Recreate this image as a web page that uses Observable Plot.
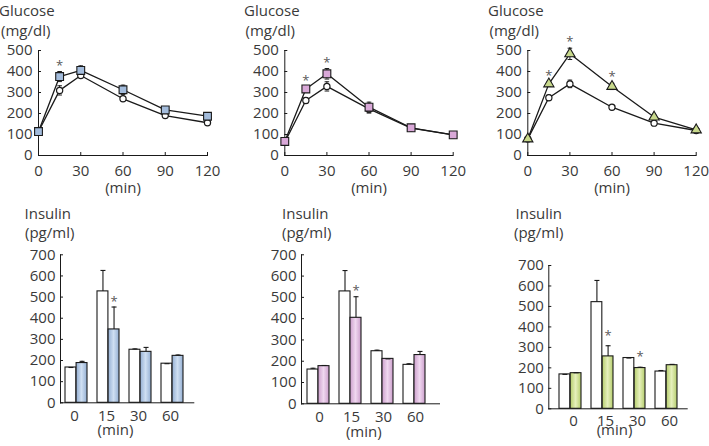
<!DOCTYPE html>
<html><head><meta charset="utf-8">
<script src="https://cdn.jsdelivr.net/npm/d3@7"></script>
<script src="https://cdn.jsdelivr.net/npm/@observablehq/plot@0.6"></script>
<style>
html,body{margin:0;padding:0;background:#fff;}
#wrap{position:relative;width:709px;height:446px;overflow:hidden;font-family:"Open Sans",sans-serif;color:#3a3a3a;}
.panel{position:absolute;}
.lbl{position:absolute;font-size:15px;line-height:15px;white-space:nowrap;color:#3a3a3a;font-family:"Open Sans",sans-serif;}
</style></head><body><div id="wrap"></div>
<script>
// ---------- data ----------
const minutes = [0, 15, 30, 60, 90, 120];
const minuteTicks = [0, 30, 60, 90, 120];
const glucoseTicks = [0, 100, 200, 300, 400, 500];
const insulinTicks = [0, 100, 200, 300, 400, 500, 600, 700];
const insulinMinutes = ["0", "15", "30", "60"];
const glucoseTitle = "Glucose", glucoseUnit = "(mg/dl)";
const insulinTitle = "Insulin", insulinUnit = "(pg/ml)";
const timeUnit = "(min)";

const glucoseControlA = [114, 310, 381, 270, 190, 156];
const glucoseControlAErr = [5, 22, 10, 8, 6, 6];
const glucoseBlue = [114, 376, 405, 313, 217, 187];
const glucoseBlueErr = [8, 24, 22, 22, 8, 16];
const glucoseBlueSig = [15];

const glucoseControlB = [63, 262, 329, 222, 130, 98];
const glucoseControlBErr = [6, 14, 22, 20, 8, 6];
const glucosePurple = [67, 317, 389, 230, 132, 98];
const glucosePurpleErr = [8, 10, 25, 24, 8, 6];
const glucosePurpleSig = [15, 30];

const glucoseControlC = [79, 275, 341, 230, 154, 119];
const glucoseControlCErr = [5, 12, 18, 8, 6, 5];
const glucoseGreen = [79, 341, 484, 329, 183, 122];
const glucoseGreenErr = [6, 12, 27, 15, 10, 6];
const glucoseGreenSig = [15, 30, 60];

const insulinControlA = [167, 527, 251, 185];
const insulinControlAErr = [0, 99, 4, 0];
const insulinBlue = [188, 347, 241, 222];
const insulinBlueErr = [8, 106, 21, 4];
const insulinBlueSig = ["15"];

const insulinControlB = [161, 528, 247, 183];
const insulinControlBErr = [6, 98, 5, 5];
const insulinPurple = [177, 404, 211, 229];
const insulinPurpleErr = [3, 99, 0, 17];
const insulinPurpleSig = ["15"];

const insulinControlC = [168, 521, 248, 182];
const insulinControlCErr = [0, 106, 0, 5];
const insulinGreen = [174, 256, 199, 213];
const insulinGreenErr = [2, 52, 4, 4];
const insulinGreenSig = ["15", "30"];

// ---------- helpers ----------
const INK = "#1a1a1a";
const capSymbol = {draw(ctx, size) { const w = Math.sqrt(size / Math.PI); ctx.moveTo(-w, 0); ctx.lineTo(w, 0); }};
const wrap = document.getElementById("wrap");

function gradDef(id, edge, mid) {
  return () => {
    const defs = d3.create("svg:defs");
    const g = defs.append("linearGradient").attr("id", id)
      .attr("x1", "0").attr("x2", "1").attr("y1", "0").attr("y2", "0");
    g.append("stop").attr("offset", "0").attr("stop-color", edge);
    g.append("stop").attr("offset", "0.5").attr("stop-color", mid);
    g.append("stop").attr("offset", "1").attr("stop-color", edge);
    return defs.node();
  };
}

function place(node, left, top) {
  const d = document.createElement("div");
  d.className = "panel"; d.style.left = left + "px"; d.style.top = top + "px";
  d.appendChild(node); wrap.appendChild(d);
}
function label(text, left, top) {
  const d = document.createElement("div");
  d.className = "lbl"; d.textContent = text;
  d.style.left = left + "px"; d.style.top = top + "px";
  wrap.appendChild(d);
}

const baseStyle = {background: "transparent", fontFamily: "'Open Sans', sans-serif", fontSize: "15px", color: "#3a3a3a", overflow: "visible"};

function glucosePanel(o) {
  const rows = (vals, errs) => minutes.map((t, i) => ({t, v: vals[i], lo: vals[i] - errs[i], hi: vals[i] + errs[i]}));
  const c = rows(o.ctrl, o.ctrlErr), s = rows(o.treat, o.treatErr);
  const stars = s.filter(d => o.sig.includes(d.t));
  const errMarks = (data) => [
    Plot.ruleX(data, {x: "t", y1: "lo", y2: "hi", stroke: INK, strokeWidth: 1}),
    Plot.dot(data, {x: "t", y: "lo", symbol: capSymbol, r: 2.3, stroke: INK, fill: "none", strokeWidth: 1}),
    Plot.dot(data, {x: "t", y: "hi", symbol: capSymbol, r: 2.3, stroke: INK, fill: "none", strokeWidth: 1})
  ];
  const svg = Plot.plot({
    width: o.width, height: 200,
    marginLeft: o.mL, marginRight: o.mR, marginTop: 50, marginBottom: 45,
    style: baseStyle,
    x: {domain: [0, 120], label: null},
    y: {domain: [0, 500], label: null},
    marks: [
      Plot.frame({anchor: "left", stroke: INK}),
      Plot.frame({anchor: "bottom", stroke: INK}),
      Plot.axisX({ticks: minuteTicks, tickSize: -3, tickPadding: 12.7, stroke: INK}),
      Plot.axisY({ticks: glucoseTicks, tickSize: -3, tickPadding: 9, stroke: INK}),
      ...errMarks(c),
      Plot.line(c, {x: "t", y: "v", stroke: INK, strokeWidth: 1.3}),
      ...errMarks(s),
      Plot.line(s, {x: "t", y: "v", stroke: INK, strokeWidth: 1.3}),
      Plot.dot(c, {x: "t", y: "v", r: 3.1, fill: "white", stroke: INK, strokeWidth: 1.2}),
      Plot.dot(s, {x: "t", y: "v", symbol: o.symbol, r: o.r, fill: o.fill, stroke: INK, strokeWidth: 1.1}),
      Plot.text(stars, {x: "t", y: "hi", text: () => "*", dy: -6, fontSize: 13, fill: "#5a5a5a"}),
      Plot.text([timeUnit], {frameAnchor: "bottom", lineAnchor: "middle", dy: 32.5, fontSize: 15, fill: "#3a3a3a"})
    ]
  });
  place(svg, o.left, 0);
}

function insulinPanel(o) {
  const n = insulinMinutes.length, pi = 0.32;
  const bw = (o.range[1] - o.range[0]) / (n - pi) * (1 - pi);
  const half = bw / 2, q = bw / 4;
  const rows = (vals, errs) => insulinMinutes.map((t, i) => ({t, v: vals[i], hi: vals[i] + errs[i]}));
  const w = rows(o.ctrl, o.ctrlErr), c = rows(o.treat, o.treatErr);
  const stars = c.filter(d => o.sig.includes(d.t));
  const errMarks = (data, dx) => [
    Plot.ruleX(data, {x: "t", y1: "v", y2: "hi", dx, stroke: INK, strokeWidth: 1.1}),
    Plot.dot(data, {x: "t", y: "hi", dx, symbol: capSymbol, r: 2.5, stroke: INK, fill: "none", strokeWidth: 1.1})
  ];
  const svg = Plot.plot({
    width: o.width, height: 206,
    marginLeft: o.mL, marginRight: o.mR, marginTop: o.mT, marginBottom: o.mB,
    style: baseStyle,
    x: {type: "band", domain: insulinMinutes, range: o.range, paddingInner: pi, paddingOuter: 0, label: null},
    y: {domain: [0, 700], label: null},
    marks: [
      gradDef(o.gradId, o.edge, o.mid),
      Plot.barY(w, {x: "t", y: "v", fill: "white", stroke: INK, strokeWidth: 1.1, insetRight: half}),
      Plot.barY(c, {x: "t", y: "v", fill: `url(#${o.gradId})`, stroke: INK, strokeWidth: 1.1, insetLeft: half}),
      ...errMarks(w, -q),
      ...errMarks(c, q),
      Plot.frame({anchor: "left", stroke: INK}),
      Plot.frame({anchor: "bottom", stroke: INK}),
      Plot.axisX({tickSize: 0, tickPadding: o.xPad, dx: o.labelDx}),
      Plot.axisY({ticks: insulinTicks, tickSize: -3, tickPadding: 8, stroke: INK}),
      Plot.text(stars, {x: "t", y: "hi", dx: q, text: () => "*", dy: o.starDy, fontSize: 13, fill: "#5a5a5a"}),
      Plot.text([timeUnit], {frameAnchor: "bottom", lineAnchor: "middle", dx: o.minDx, dy: o.minDy, fontSize: 15, fill: "#3a3a3a"})
    ]
  });
  place(svg, o.left, 240);
}

// ---------- panels ----------
glucosePanel({left: 0, width: 240, mL: 38, mR: 33, ctrl: glucoseControlA, ctrlErr: glucoseControlAErr,
  treat: glucoseBlue, treatErr: glucoseBlueErr, sig: glucoseBlueSig, symbol: "square", r: 4.4, fill: "#a3bcdc"});
glucosePanel({left: 236, width: 240, mL: 48.3, mR: 23.3, ctrl: glucoseControlB, ctrlErr: glucoseControlBErr,
  treat: glucosePurple, treatErr: glucosePurpleErr, sig: glucosePurpleSig, symbol: "square", r: 4.4, fill: "#d9a8d8"});
glucosePanel({left: 472, width: 237, mL: 55.3, mR: 13.3, ctrl: glucoseControlC, ctrlErr: glucoseControlCErr,
  treat: glucoseGreen, treatErr: glucoseGreenErr, sig: glucoseGreenSig, symbol: "triangle", r: 3.8, fill: "#c8d98c"});

insulinPanel({left: 0, width: 240, mL: 60, mR: 46.7, mT: 14.3, mB: 43.7, range: [64.3, 184.3],
  ctrl: insulinControlA, ctrlErr: insulinControlAErr, treat: insulinBlue, treatErr: insulinBlueErr, sig: insulinBlueSig,
  gradId: "gBlue", edge: "#94afd3", mid: "#cfdff2", xPad: 7.5, labelDx: -2, starDy: -5, minDx: -11.7, minDy: 27.5});
insulinPanel({left: 240, width: 236, mL: 61, mR: 37, mT: 14.3, mB: 42.7, range: [66, 185],
  ctrl: insulinControlB, ctrlErr: insulinControlBErr, treat: insulinPurple, treatErr: insulinPurpleErr, sig: insulinPurpleSig,
  gradId: "gPurple", edge: "#cc9fcc", mid: "#f0d8f0", xPad: 7.5, labelDx: 1, starDy: -5.5, minDx: -6.7, minDy: 28});
insulinPanel({left: 476, width: 233, mL: 72.3, mR: 22.3, mT: 25, mB: 37.7, range: [81.7, 202.7],
  ctrl: insulinControlC, ctrlErr: insulinControlCErr, treat: insulinGreen, treatErr: insulinGreenErr, sig: insulinGreenSig,
  gradId: "gGreen", edge: "#b5cd6c", mid: "#e6f0bc", xPad: 6.5, labelDx: 3, starDy: -10, minDx: -3.5, minDy: 21.5});

// ---------- titles ----------
[[-1, 1], [244, 245.5], [488, 489.5]].forEach(([a, b]) => { label(glucoseTitle, a, 2.7); label(glucoseUnit, b, 22.7); });
[[24.5, 25], [282, 282], [515.5, 514]].forEach(([a, b]) => { label(insulinTitle, a, 205.7); label(insulinUnit, b, 225); });
</script></body></html>
